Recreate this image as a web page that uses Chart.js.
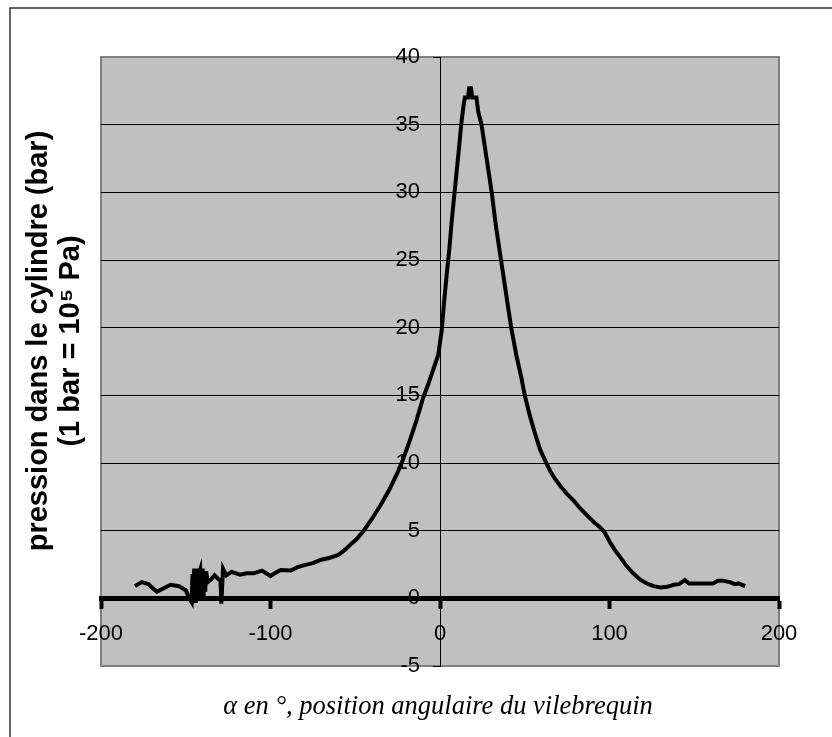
<!DOCTYPE html>
<html>
<head>
<meta charset="utf-8">
<script src="https://cdn.jsdelivr.net/npm/chart.js@4.4.1/dist/chart.umd.min.js"></script>
<style>
  html, body { margin: 0; padding: 0; background: #fff; }
  #wrap { width: 832px; height: 737px; }
</style>
</head>
<body>
<div id="wrap"><canvas id="pressionChart" width="832" height="737"></canvas></div>
<script>
// angle du vilebrequin (deg) and pression (bar)
const angles = [
  -180, -176, -172, -169, -167, -163, -159, -154, -150, -148,
  -146.5, -146, -145.5, -145, -144.5, -144, -143.5, -143, -142.5, -142,
  -141.5, -141, -140.5, -140, -139.5, -139, -138.5, -138, -137, -135,
  -133, -131, -129.5, -129, -128, -126, -123,
  -118, -114, -110, -105, -100, -97, -94, -88, -84, -80,
  -75, -70, -65, -60, -56, -53, -49, -45, -40, -35,
  -30, -25, -22, -18, -14, -10, -7, -4, -1, 1,
  2.5, 4, 5.5, 7, 9, 11, 12.5, 14, 14.7, 16.5,
  17.2, 18.3, 19, 21.5, 22.5, 24.5, 27.5, 30.5, 33, 36,
  39, 42, 45, 48, 50, 53, 56, 59, 62, 65,
  68, 71, 75, 79, 83, 87, 91, 94, 97, 100,
  103, 106, 110, 114, 118, 122, 126, 130, 134, 138,
  141, 144.5, 147, 152, 157, 161, 164, 167, 171, 174,
  176, 180
];
const pressions = [
  0.9, 1.2, 1.05, 0.7, 0.5, 0.75, 1.0, 0.9, 0.6, 0.0,
  -0.3, 1.8, 0.1, 2.2, -0.2, 2.1, 0.4, 2.2, -0.1, 1.9,
  2.1, 0.2, 1.6, 2.2, 0.1, 2.0, 0.5, 2.0, 1.2, 1.4,
  1.7, 1.45, 1.3, -0.4, 2.2, 1.7, 1.95,
  1.75, 1.85, 1.85, 2.05, 1.65, 1.9, 2.1, 2.05, 2.3, 2.45,
  2.6, 2.85, 3.0, 3.2, 3.6, 3.95, 4.4, 5.0, 5.9, 6.9,
  8.0, 9.3, 10.2, 11.6, 13.1, 14.8, 15.8, 16.9, 18.0, 19.8,
  22, 24, 25.8, 28, 30.5, 33, 35, 36.5, 37.0, 37.0,
  37.7, 37.7, 37.0, 37.0, 36.0, 35.0, 32.5, 30, 27.5, 25,
  22.5, 20, 18, 16.3, 15, 13.5, 12.2, 11.0, 10.2, 9.4,
  8.8, 8.3, 7.7, 7.2, 6.6, 6.1, 5.6, 5.3, 4.9, 4.2,
  3.6, 3.1, 2.4, 1.85, 1.4, 1.1, 0.9, 0.8, 0.85, 1.0,
  1.05, 1.35, 1.1, 1.1, 1.1, 1.1, 1.3, 1.3, 1.2, 1.05,
  1.1, 0.9
];
const xTicks = [-200, -100, 0, 100, 200];
const yTicks = [-5, 0, 5, 10, 15, 20, 25, 30, 35, 40];
const yTitle = ["pression dans le cylindre (bar)", "(1 bar = 10\u2075 Pa)"];
const xTitle = "\u03b1 en \u00b0, position angulaire du vilebrequin";

const points = angles.map((a, i) => ({ x: a, y: pressions[i] }));

// gray plot area, its border, the outer frame and the two axis titles
const decor = {
  id: "decor",
  beforeDraw(chart) {
    const { ctx, chartArea: a } = chart;
    ctx.save();
    ctx.fillStyle = "#fff";
    ctx.fillRect(0, 0, chart.width, chart.height);
    ctx.strokeStyle = "#333";
    ctx.lineWidth = 1.5;
    ctx.strokeRect(10, 8, chart.width + 20, chart.height + 20);
    ctx.fillStyle = "#c0c0c0";
    ctx.fillRect(a.left, a.top, a.right - a.left, a.bottom - a.top);
    ctx.strokeStyle = "#808080";
    ctx.lineWidth = 2;
    ctx.strokeRect(a.left, a.top, a.right - a.left, a.bottom - a.top);
    ctx.restore();
  },
  afterDraw(chart) {
    const { ctx } = chart;
    ctx.save();
    ctx.fillStyle = "#000";
    ctx.textAlign = "center";
    ctx.textBaseline = "middle";
    ctx.font = "italic 26.5px 'Liberation Serif', 'Times New Roman', serif";
    ctx.fillText(xTitle, 438, 707);
    ctx.translate(39, 341);
    ctx.rotate(-Math.PI / 2);
    ctx.font = "bold 29px 'Liberation Sans', Arial, sans-serif";
    ctx.fillText(yTitle[0], 0, 0);
    ctx.fillText(yTitle[1], 0, 32);
    ctx.restore();
  }
};

Chart.defaults.font.family = "'Liberation Sans', Arial, sans-serif";
Chart.defaults.color = "#000";

new Chart(document.getElementById("pressionChart"), {
  type: "line",
  data: {
    datasets: [{
      data: points,
      yAxisID: "y",
      borderColor: "#000",
      borderWidth: 4,
      pointRadius: 0,
      tension: 0,
      fill: false
    }]
  },
  options: {
    responsive: false,
    animation: false,
    devicePixelRatio: 1,
    layout: { padding: { left: 101, top: 57, right: 53, bottom: 71 } },
    plugins: { legend: { display: false }, tooltip: { enabled: false } },
    scales: {
      x: {
        type: "linear",
        min: -200,
        max: 200,
        position: { y: 0 },
        afterBuildTicks: s => { s.ticks = xTicks.map(v => ({ value: v })); },
        ticks: { font: { size: 22 }, padding: 14, maxRotation: 0 },
        grid: { drawOnChartArea: false, tickLength: 8, tickWidth: 4, tickColor: "#000" },
        border: { color: "#000", width: 5 }
      },
      y: {
        type: "linear",
        min: -5,
        max: 40,
        position: { x: 0 },
        afterBuildTicks: s => { s.ticks = yTicks.map(v => ({ value: v })); },
        ticks: { display: false },
        grid: {
          color: c => (c.tick && (c.tick.value === -5 || c.tick.value === 40)) ? "rgba(0,0,0,0)" : "#000",
          lineWidth: 1,
          tickLength: 7,
          tickColor: "#000"
        },
        border: { color: "#000", width: 1 }
      },
      // label-only copy of the y axis, sitting just left of the tick marks
      yLabels: {
        type: "linear",
        min: -5,
        max: 40,
        position: { x: -11.8 },
        afterBuildTicks: s => { s.ticks = yTicks.map(v => ({ value: v })); },
        ticks: { font: { size: 22 }, padding: 0 },
        grid: { display: false, drawTicks: false },
        border: { display: false }
      }
    }
  },
  plugins: [decor]
});
</script>
</body>
</html>
